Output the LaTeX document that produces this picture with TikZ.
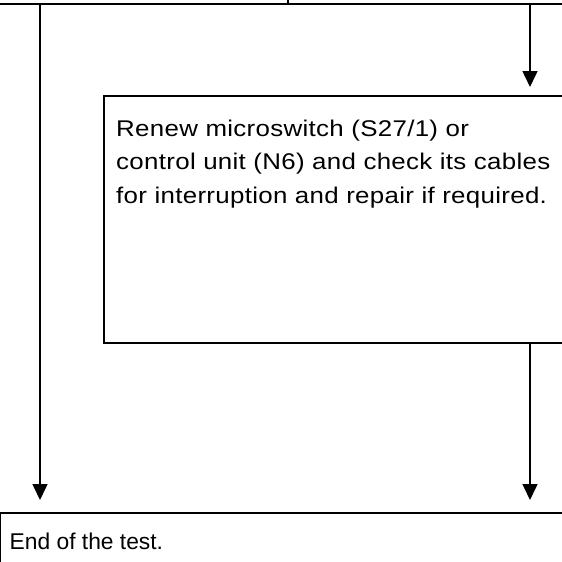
\documentclass[tikz,border=0pt]{standalone}
\usepackage{fontspec}
\setmainfont{Liberation Sans}
\newfontfamily\widefont[FakeStretch=1.14,LetterSpace=1.4]{Liberation Sans}
\usetikzlibrary{arrows.meta}
\begin{document}
\begin{tikzpicture}[x=1pt,y=-1pt,
  box/.style={draw, line width=1.5pt, inner sep=0pt, outer sep=0pt, anchor=north west},
  conn/.style={line width=1.5pt, -{Triangle[length=16pt,width=15pt]}},
  txt/.style={anchor=base west, align=left, inner sep=0pt}]
\useasboundingbox (0,0) rectangle (562,562);
\clip (0,0) rectangle (562,562);
\node[box, minimum width=308pt, minimum height=64pt] (tl) at (-20,-60) {};
\node[box, minimum width=310pt, minimum height=64pt] (tr) at (288,-60) {};
\node[box, minimum width=500pt, minimum height=247pt] (mid) at (104,96) {};
\node[box, minimum width=600pt, minimum height=100pt] (end) at (0,513) {};
\node[txt, font=\widefont\fontsize{22.7pt}{33.5pt}\selectfont] (midtxt) at (116,203) {Renew microswitch (S27/1) or\\control unit (N6) and check its cables\\for interruption and repair if required.};
\node[txt, font=\fontsize{22.8pt}{27pt}\selectfont] (endtxt) at (9.5,549) {End of the test.};
\coordinate (a1) at (40,4);
\coordinate (a2) at (40,500);
\coordinate (b1) at (530,4);
\coordinate (b2) at (530,87);
\coordinate (c1) at (530,343);
\coordinate (c2) at (530,500);
\draw[conn] (a1) -- (a2);
\draw[conn] (b1) -- (b2);
\draw[conn] (c1) -- (c2);
\end{tikzpicture}
\end{document}
